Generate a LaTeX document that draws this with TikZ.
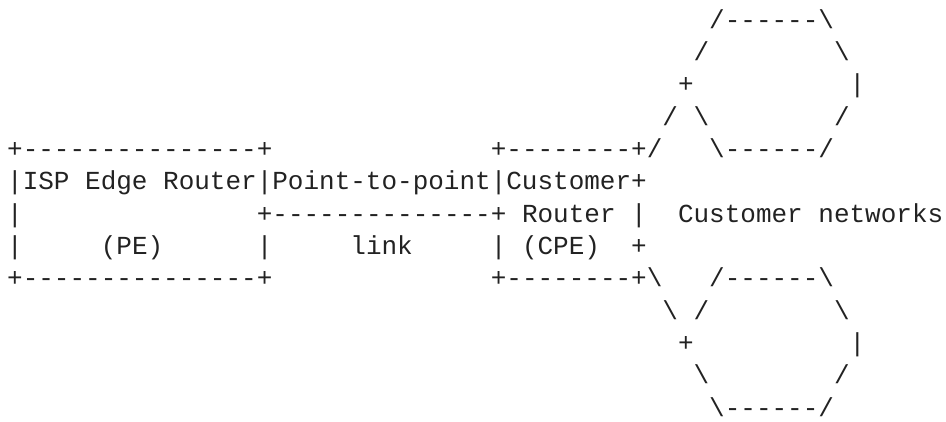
\documentclass[tikz,border=0pt]{standalone}
\usepackage{fontspec}
\newfontfamily\asciifont{Liberation Mono}
\definecolor{ink}{HTML}{222222}
\newcommand\bs{\textbackslash}
\begin{document}
\begin{tikzpicture}[x=1pt,y=1pt,
  asc/.style={anchor=base west,inner sep=0pt,outer sep=0pt,
    font=\asciifont\fontsize{26}{26}\selectfont,text=ink}]
\useasboundingbox (0,0) rectangle (946,-422);
% row 0
\node[asc] (r0a) at ({7.2+15.6*45},{-28.4-32.3*0}) {/------\bs};
% row 1
\node[asc] (r1a) at ({7.2+15.6*44},{-28.4-32.3*1}) {/};
\node[asc] (r1b) at ({7.2+15.6*53},{-28.4-32.3*1}) {\bs};
% row 2
\node[asc] (r2a) at ({7.2+15.6*43},{-28.4-32.3*2}) {+};
\node[asc] (r2b) at ({7.2+15.6*54},{-28.4-32.3*2}) {|};
% row 3
\node[asc] (r3a) at ({7.2+15.6*42},{-28.4-32.3*3}) {/};
\node[asc] (r3b) at ({7.2+15.6*44},{-28.4-32.3*3}) {\bs};
\node[asc] (r3c) at ({7.2+15.6*53},{-28.4-32.3*3}) {/};
% row 4
\node[asc] (r4a) at ({7.2+15.6*0},{-28.4-32.3*4}) {+---------------+};
\node[asc] (r4b) at ({7.2+15.6*31},{-28.4-32.3*4}) {+--------+/};
\node[asc] (r4c) at ({7.2+15.6*45},{-28.4-32.3*4}) {\bs------/};
% row 5
\node[asc] (r5a) at ({7.2+15.6*0},{-28.4-32.3*5}) {|ISP Edge Router|Point-to-point|Customer+};
% row 6
\node[asc] (r6a) at ({7.2+15.6*0},{-28.4-32.3*6}) {|};
\node[asc] (r6b) at ({7.2+15.6*16},{-28.4-32.3*6}) {+--------------+};
\node[asc] (r6c) at ({7.2+15.6*33},{-28.4-32.3*6}) {Router};
\node[asc] (r6d) at ({7.2+15.6*40},{-28.4-32.3*6}) {|};
\node[asc] (r6e) at ({7.2+15.6*43},{-28.4-32.3*6}) {Customer networks};
% row 7
\node[asc] (r7a) at ({7.2+15.6*0},{-28.4-32.3*7}) {|};
\node[asc] (r7b) at ({7.2+15.6*6},{-28.4-32.3*7}) {(PE)};
\node[asc] (r7c) at ({7.2+15.6*16},{-28.4-32.3*7}) {|};
\node[asc] (r7d) at ({7.2+15.6*22},{-28.4-32.3*7}) {link};
\node[asc] (r7e) at ({7.2+15.6*31},{-28.4-32.3*7}) {|};
\node[asc] (r7f) at ({7.2+15.6*33},{-28.4-32.3*7}) {(CPE)};
\node[asc] (r7g) at ({7.2+15.6*40},{-28.4-32.3*7}) {+};
% row 8
\node[asc] (r8a) at ({7.2+15.6*0},{-28.4-32.3*8}) {+---------------+};
\node[asc] (r8b) at ({7.2+15.6*31},{-28.4-32.3*8}) {+--------+\bs};
\node[asc] (r8c) at ({7.2+15.6*45},{-28.4-32.3*8}) {/------\bs};
% row 9
\node[asc] (r9a) at ({7.2+15.6*42},{-28.4-32.3*9}) {\bs};
\node[asc] (r9b) at ({7.2+15.6*44},{-28.4-32.3*9}) {/};
\node[asc] (r9c) at ({7.2+15.6*53},{-28.4-32.3*9}) {\bs};
% row 10
\node[asc] (r10a) at ({7.2+15.6*43},{-28.4-32.3*10}) {+};
\node[asc] (r10b) at ({7.2+15.6*54},{-28.4-32.3*10}) {|};
% row 11
\node[asc] (r11a) at ({7.2+15.6*44},{-28.4-32.3*11}) {\bs};
\node[asc] (r11b) at ({7.2+15.6*53},{-28.4-32.3*11}) {/};
% row 12
\node[asc] (r12a) at ({7.2+15.6*45},{-28.4-32.3*12}) {\bs------/};
\end{tikzpicture}
\end{document}
